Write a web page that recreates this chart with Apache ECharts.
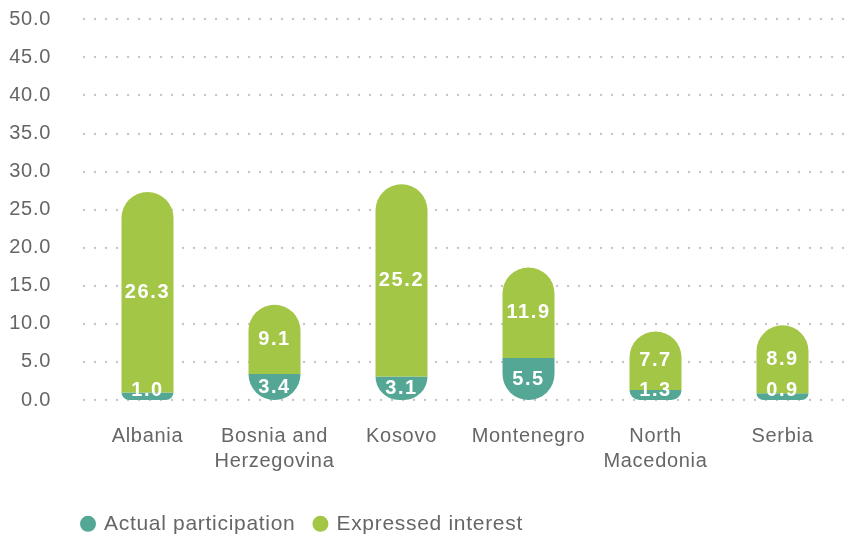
<!DOCTYPE html>
<html>
<head>
<meta charset="utf-8">
<script src="https://cdn.jsdelivr.net/npm/echarts@6/dist/echarts.min.js"></script>
<style>
  html, body { margin: 0; padding: 0; background: #fff; }
  #chart { width: 846px; height: 535px; }
</style>
</head>
<body>
<div id="chart"></div>
<script>
const categories = ['Albania', 'Bosnia and\nHerzegovina', 'Kosovo', 'Montenegro', 'North\nMacedonia', 'Serbia'];
const actualParticipation = [1.0, 3.4, 3.1, 5.5, 1.3, 0.9];
const expressedInterest = [26.3, 9.1, 25.2, 11.9, 7.7, 8.9];
const yTicks = { min: 0, max: 50, interval: 5 };

const FONT = '"Liberation Sans", Arial, sans-serif';
const TEAL = '#54a795';
const GREEN = '#a4c646';

// slightly open letter spacing for canvas text (drawing and measuring);
// the bold value labels get a bit more
(function () {
  const proto = CanvasRenderingContext2D.prototype;
  if (!('letterSpacing' in proto)) return;
  ['fillText', 'strokeText', 'measureText'].forEach(name => {
    const orig = proto[name];
    proto[name] = function () {
      this.letterSpacing = /bold/.test(this.font) ? '1.6px' : '0.7px';
      return orig.apply(this, arguments);
    };
  });
})();

// keep small-segment labels from dropping below the baseline
function keepAboveBase(p) {
  const r = p.labelRect;
  const bottom = p.rect.y + p.rect.height;
  const cy = Math.min(r.y + r.height / 2, bottom - 10);
  return { x: r.x + r.width / 2, y: cy, align: 'center', verticalAlign: 'middle' };
}

const chart = echarts.init(document.getElementById('chart'), null, { renderer: 'canvas' });
chart.setOption({
  animation: false,
  textStyle: { fontFamily: FONT },
  grid: { left: 84, right: -7, top: 19, bottom: 135 },
  legend: {
    left: 75, top: 508,
    icon: 'circle', itemWidth: 16, itemHeight: 16, itemGap: 17,
    textStyle: { fontSize: 21, color: '#666', fontFamily: FONT, padding: [0, 0, 0, 3] },
    data: ['Actual participation', 'Expressed interest']
  },
  xAxis: {
    type: 'category',
    data: categories,
    axisLine: { show: false },
    axisTick: { show: false },
    axisLabel: { color: '#666', fontSize: 20, margin: 24, lineHeight: 25, fontFamily: FONT, interval: 0 }
  },
  yAxis: {
    type: 'value',
    min: yTicks.min, max: yTicks.max, interval: yTicks.interval,
    axisLabel: {
      color: '#666', fontSize: 20, margin: 33, fontFamily: FONT,
      formatter: v => v.toFixed(1)
    },
    axisLine: { show: false },
    axisTick: { show: false },
    splitLine: { lineStyle: { color: '#c4c4c4', width: 2.3, type: [0.1, 10.9], cap: 'round' } }
  },
  series: [
    {
      name: 'Actual participation',
      type: 'bar',
      stack: 'total',
      barWidth: 52,
      data: actualParticipation,
      itemStyle: { color: TEAL, borderRadius: [0, 0, 26, 26] },
      label: {
        show: true, position: 'inside', color: '#fff', fontSize: 20, fontWeight: 'bold',
        fontFamily: FONT, formatter: p => p.value.toFixed(1)
      },
      labelLayout: keepAboveBase
    },
    {
      name: 'Expressed interest',
      type: 'bar',
      stack: 'total',
      barWidth: 52,
      data: expressedInterest,
      itemStyle: { color: GREEN, borderRadius: [26, 26, 0, 0] },
      label: {
        show: true, position: 'inside', color: '#fff', fontSize: 20, fontWeight: 'bold',
        fontFamily: FONT, formatter: p => p.value.toFixed(1)
      }
    }
  ]
});
</script>
</body>
</html>
